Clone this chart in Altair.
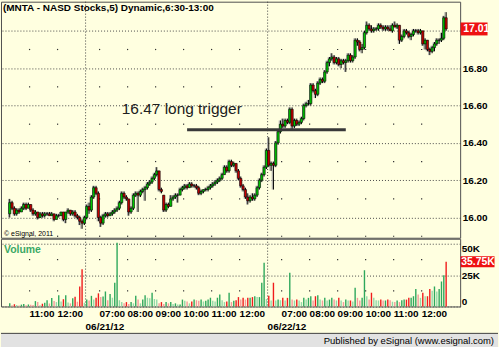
import altair as alt
import pandas as pd

# ---------------------------------------------------------------- data
title_text = "(MNTA - NASD Stocks,5) Dynamic,6:30-13:00"
copyright_text = "\u00a9 eSignal, 2011"
footer_text = "Published by eSignal (www.esignal.com)"

# one entry per trading session: date, first 5-minute bar, number of bars
session_dates = ["06/20/12", "06/21/12", "06/22/12"]
session_first_bar = ["10:15", "06:30", "06:30"]
session_bar_count = [33, 78, 77]

bar_open = [
    # 06/20
    16.02, 16.08, 16.05, 16.02, 16.04, 16.03, 16.05, 16.07, 16.05, 16.07,
    16.04, 16.02, 16.03, 16.00, 16.02, 16.01, 16.02, 16.02, 16.01, 16.02,
    15.99, 16.01, 16.01, 16.03, 15.99, 16.03, 16.04, 16.02, 16.03, 16.01,
    16.00, 15.98, 15.97,
    # 06/21
    16.00, 16.06, 16.04, 16.11, 16.16, 16.13, 16.00, 15.97, 16.01, 16.02,
    16.01, 16.02, 16.03, 16.04, 16.05, 16.08, 16.13, 16.11, 16.10, 16.03,
    16.05, 16.12, 16.13, 16.12, 16.14, 16.15, 16.16, 16.18, 16.19, 16.21,
    16.23, 16.25, 16.15, 16.12, 16.04, 16.07, 16.06, 16.10, 16.11, 16.12,
    16.12, 16.15, 16.16, 16.17, 16.16, 16.18, 16.17, 16.17, 16.16, 16.13,
    16.14, 16.15, 16.15, 16.16, 16.17, 16.18, 16.19, 16.20, 16.21, 16.23,
    16.27, 16.25, 16.30, 16.28, 16.29, 16.25, 16.21, 16.17, 16.15, 16.11,
    16.09, 16.11, 16.10, 16.12, 16.16, 16.20, 16.23, 16.27,
    # 06/22
    16.36, 16.28, 16.29, 16.28, 16.40, 16.46, 16.50, 16.49, 16.52, 16.51,
    16.58, 16.49, 16.52, 16.50, 16.51, 16.53, 16.60, 16.61, 16.61, 16.71,
    16.68, 16.66, 16.72, 16.74, 16.73, 16.78, 16.83, 16.85, 16.86, 16.83,
    16.85, 16.82, 16.84, 16.83, 16.84, 16.87, 16.84, 16.86, 16.95, 16.94,
    16.90, 16.91, 16.99, 17.03, 17.01, 17.00, 17.01, 17.01, 17.03, 17.02,
    17.01, 17.02, 17.01, 17.00, 17.03, 17.02, 17.03, 16.95, 16.97, 17.00,
    16.99, 16.97, 16.98, 17.00, 17.00, 16.99, 17.00, 16.93, 16.95, 16.90,
    16.89, 16.91, 16.93, 16.95, 16.95, 16.96, 17.07,
]
bar_high = [
    # 06/20
    16.10, 16.09, 16.06, 16.05, 16.05, 16.06, 16.08, 16.08, 16.08, 16.07,
    16.05, 16.04, 16.03, 16.03, 16.03, 16.03, 16.03, 16.03, 16.03, 16.02,
    16.02, 16.02, 16.03, 16.03, 16.03, 16.05, 16.04, 16.04, 16.04, 16.02,
    16.01, 15.99, 16.01,
    # 06/21
    16.07, 16.08, 16.12, 16.17, 16.17, 16.14, 16.01, 16.02, 16.03, 16.03,
    16.03, 16.04, 16.05, 16.06, 16.09, 16.14, 16.14, 16.12, 16.10, 16.06,
    16.13, 16.14, 16.14, 16.15, 16.16, 16.17, 16.19, 16.20, 16.22, 16.24,
    16.27, 16.25, 16.16, 16.12, 16.08, 16.08, 16.12, 16.12, 16.13, 16.13,
    16.16, 16.17, 16.18, 16.18, 16.19, 16.19, 16.18, 16.18, 16.17, 16.15,
    16.15, 16.16, 16.17, 16.18, 16.19, 16.20, 16.21, 16.22, 16.24, 16.28,
    16.28, 16.31, 16.31, 16.30, 16.29, 16.26, 16.22, 16.18, 16.16, 16.13,
    16.12, 16.13, 16.13, 16.17, 16.21, 16.24, 16.28, 16.37,
    # 06/22
    16.43, 16.30, 16.30, 16.41, 16.47, 16.52, 16.53, 16.53, 16.53, 16.59,
    16.59, 16.53, 16.53, 16.52, 16.54, 16.61, 16.62, 16.63, 16.72, 16.72,
    16.69, 16.73, 16.75, 16.75, 16.79, 16.84, 16.86, 16.88, 16.87, 16.86,
    16.86, 16.85, 16.85, 16.85, 16.88, 16.88, 16.87, 16.96, 16.96, 16.95,
    16.93, 17.00, 17.05, 17.04, 17.03, 17.02, 17.02, 17.04, 17.04, 17.03,
    17.03, 17.03, 17.03, 17.04, 17.05, 17.04, 17.03, 16.98, 17.01, 17.01,
    17.00, 16.99, 17.01, 17.01, 17.01, 17.01, 17.00, 16.96, 16.95, 16.91,
    16.92, 16.94, 16.96, 16.96, 16.99, 17.08, 17.10,
]
bar_low = [
    # 06/20
    16.00, 16.04, 16.01, 16.01, 16.02, 16.03, 16.04, 16.04, 16.05, 16.03,
    16.01, 16.01, 15.99, 16.00, 16.00, 16.00, 16.01, 16.01, 16.01, 15.98,
    15.99, 16.00, 16.01, 15.98, 15.97, 16.02, 16.01, 16.01, 16.00, 15.99,
    15.96, 15.94, 15.96,
    # 06/21
    15.99, 16.02, 16.03, 16.10, 16.12, 15.98, 15.95, 15.96, 16.00, 16.00,
    16.01, 16.01, 16.02, 16.03, 16.04, 16.07, 16.10, 16.09, 16.01, 16.02,
    16.04, 16.11, 16.03, 16.11, 16.13, 16.09, 16.15, 16.17, 16.18, 16.20,
    16.22, 16.14, 16.13, 16.03, 16.03, 16.05, 16.06, 16.09, 16.10, 16.08,
    16.12, 16.14, 16.15, 16.15, 16.16, 16.16, 16.16, 16.15, 16.12, 16.12,
    16.13, 16.14, 16.14, 16.15, 16.16, 16.17, 16.18, 16.19, 16.20, 16.23,
    16.24, 16.24, 16.27, 16.27, 16.24, 16.20, 16.16, 16.14, 16.10, 16.07,
    16.08, 16.09, 16.09, 16.11, 16.15, 16.19, 16.22, 16.26,
    # 06/22
    16.27, 16.25, 16.15, 16.27, 16.39, 16.45, 16.48, 16.48, 16.50, 16.50,
    16.47, 16.48, 16.49, 16.49, 16.50, 16.52, 16.59, 16.60, 16.60, 16.67,
    16.64, 16.65, 16.71, 16.72, 16.72, 16.77, 16.81, 16.84, 16.82, 16.82,
    16.81, 16.80, 16.82, 16.78, 16.83, 16.83, 16.83, 16.85, 16.92, 16.89,
    16.88, 16.90, 16.98, 17.00, 16.99, 16.99, 17.00, 17.00, 17.01, 17.00,
    17.00, 17.00, 17.00, 16.99, 17.02, 17.01, 16.93, 16.94, 16.96, 16.98,
    16.96, 16.95, 16.97, 16.99, 16.98, 16.98, 16.92, 16.90, 16.89, 16.87,
    16.88, 16.89, 16.92, 16.93, 16.94, 16.95, 17.00,
]
bar_close = [
    # 06/20
    16.08, 16.05, 16.02, 16.04, 16.03, 16.05, 16.07, 16.05, 16.07, 16.04,
    16.02, 16.03, 16.00, 16.02, 16.01, 16.02, 16.02, 16.01, 16.02, 15.99,
    16.01, 16.01, 16.03, 15.99, 16.03, 16.04, 16.02, 16.03, 16.01, 16.00,
    15.98, 15.97, 16.00,
    # 06/21
    16.06, 16.04, 16.11, 16.16, 16.13, 16.00, 15.97, 16.01, 16.02, 16.01,
    16.02, 16.03, 16.04, 16.05, 16.08, 16.13, 16.11, 16.10, 16.03, 16.05,
    16.12, 16.13, 16.12, 16.14, 16.15, 16.16, 16.18, 16.19, 16.21, 16.23,
    16.25, 16.15, 16.14, 16.04, 16.07, 16.06, 16.10, 16.11, 16.12, 16.12,
    16.15, 16.16, 16.17, 16.16, 16.18, 16.17, 16.17, 16.16, 16.13, 16.14,
    16.15, 16.15, 16.16, 16.17, 16.18, 16.19, 16.20, 16.21, 16.23, 16.27,
    16.25, 16.30, 16.28, 16.29, 16.25, 16.21, 16.17, 16.15, 16.11, 16.09,
    16.11, 16.10, 16.12, 16.16, 16.20, 16.23, 16.27, 16.36,
    # 06/22
    16.28, 16.29, 16.28, 16.40, 16.46, 16.50, 16.49, 16.52, 16.51, 16.58,
    16.49, 16.52, 16.50, 16.51, 16.53, 16.60, 16.61, 16.61, 16.71, 16.68,
    16.66, 16.72, 16.74, 16.73, 16.78, 16.83, 16.85, 16.86, 16.83, 16.85,
    16.82, 16.84, 16.83, 16.84, 16.87, 16.84, 16.86, 16.95, 16.94, 16.90,
    16.91, 16.99, 17.03, 17.01, 17.00, 17.01, 17.01, 17.03, 17.02, 17.01,
    17.02, 17.01, 17.00, 17.03, 17.02, 17.03, 16.95, 16.97, 17.00, 16.99,
    16.97, 16.98, 17.00, 17.00, 16.99, 17.00, 16.93, 16.95, 16.90, 16.89,
    16.91, 16.93, 16.95, 16.95, 16.96, 17.07, 17.01,
]
# volume per bar, thousands of shares
volume_k = [
    # 06/20
    2.5, 1.0, 1.8, 1.2, 0.8, 1.5, 2.0, 0.9, 1.6, 1.3,
    1.1, 4.3, 3.6, 1.0, 2.2, 3.0, 5.0, 2.4, 6.7, 4.4,
    3.5, 8.9, 4.0, 5.8, 9.0, 3.2, 2.5, 6.5, 7.8, 3.8,
    16.0, 29.7, 3.0,
    # 06/21
    5.6, 4.8, 8.5, 5.6, 6.9, 10.5, 7.5, 8.0, 12.0, 5.0,
    10.0, 7.0, 19.0, 51.0, 5.0, 3.5, 2.5, 3.5, 2.0, 3.5,
    2.5, 8.5, 5.5, 2.5, 5.5, 9.0, 7.0, 6.5, 11.0, 6.0,
    5.5, 2.5, 3.5, 2.0, 3.5, 2.5, 3.5, 2.0, 2.5, 1.5,
    1.5, 5.5, 4.5, 4.0, 2.5, 4.0, 5.5, 5.0, 4.5, 5.5,
    4.0, 4.5, 5.5, 7.0, 4.5, 4.0, 7.0, 9.5, 5.0, 3.5,
    4.0, 11.0, 3.5, 4.5, 5.0, 7.5, 5.5, 6.9, 5.5, 6.9,
    6.9, 7.5, 8.2, 7.5, 7.5, 19.0, 35.0, 6.0,
    # 06/22
    8.5, 4.8, 19.0, 4.8, 5.5, 5.0, 6.9, 4.8, 6.9, 27.0,
    5.5, 4.8, 5.5, 4.8, 3.5, 6.9, 5.5, 6.9, 8.2, 4.8,
    8.2, 8.9, 5.5, 4.8, 6.9, 4.8, 5.5, 6.9, 5.5, 4.8,
    6.9, 4.8, 3.5, 5.5, 4.8, 4.8, 4.0, 15.0, 6.9, 4.8,
    6.9, 29.0, 8.2, 5.5, 11.0, 6.9, 5.0, 4.8, 5.5, 4.8,
    4.8, 5.5, 5.0, 3.8, 3.5, 4.8, 3.5, 5.0, 5.5, 5.5,
    6.9, 6.9, 8.2, 14.0, 9.5, 6.9, 11.0, 8.2, 8.2, 14.0,
    12.5, 16.0, 12.0, 14.0, 20.0, 25.0, 35.75,
]

trigger_price = 16.47
trigger_label = "16.47 long trigger"
trigger_from = ("06/21/12", "10:05")
trigger_to = ("06/22/12", "09:15")
trigger_label_at = ("06/21/12", "07:45")

price_grid = [16.0, 16.2, 16.4, 16.6, 16.8, 17.0]
price_minor = [15.9, 16.1, 16.3, 16.5, 16.7, 16.9]
volume_grid = [0, 25, 50]
volume_minor = [12.5, 37.5]

# ---------------------------------------------------------------- frames
rows = []
for d, first, n in zip(session_dates, session_first_bar, session_bar_count):
    h, m = (int(p) for p in first.split(":"))
    for k in range(n):
        t = h * 60 + m + 5 * k
        rows.append({"date": d, "time": f"{t // 60:02d}:{t % 60:02d}"})
bars = pd.DataFrame(rows)
bars["idx"] = range(len(bars))
bars["open"] = bar_open
bars["high"] = bar_high
bars["low"] = bar_low
bars["close"] = bar_close
bars["volume_k"] = volume_k

up = bars["close"] >= bars["open"]
louder = bars["volume_k"] >= bars["volume_k"].shift(1).fillna(0)
bars["body"] = up.map({True: "#00c800", False: "#c80000"})
bars["vcolor"] = [
    ("#2ea85c" if u else "#f01c1c") if l else ("#93d9a8" if u else "#f59a9a")
    for u, l in zip(up, louder)
]

pos_of = {(d, t): i for d, t, i in zip(bars["date"], bars["time"], bars["idx"])}

hour_rows = bars[bars["time"].str.endswith(":00") & bars["time"].between("07:00", "12:00")]
hour_ticks = pd.DataFrame({"pos": hour_rows["idx"] - 0.5, "label": hour_rows["time"]})

starts = bars.groupby("date", sort=False)["idx"].min().iloc[1:]
session_ticks = pd.DataFrame({"pos": starts.values - 0.5, "label": starts.index})

price_dots = pd.DataFrame(
    [{"pos": p, "level": v} for p in hour_ticks["pos"] for v in price_minor]
)
volume_dots = pd.DataFrame(
    [{"pos": p, "level": v} for p in hour_ticks["pos"] for v in volume_minor]
)

trigger = pd.DataFrame([{
    "start": pos_of[trigger_from], "end": pos_of[trigger_to],
    "at": pos_of[trigger_label_at], "price": trigger_price, "label": trigger_label,
}])

last = bars.tail(1).copy()
last["price_label"] = last["close"].map(lambda v: f"{v:.2f}")
last["volume_label"] = last["volume_k"].map(lambda v: f"{v:.2f}K")

# ---------------------------------------------------------------- chart
W, H_PRICE, H_VOL = 461, 237, 68
FONT = "Liberation Sans"
INK = "#000000"

x_scale = alt.Scale(domain=[-1.61, 190.87], nice=False, zero=False)
p_scale = alt.Scale(domain=[15.892, 17.156], nice=False, zero=False)
v_scale = alt.Scale(domain=[0, 54.2], nice=False, zero=True)

price_axis = alt.Axis(
    orient="right", values=price_grid, grid=True, gridDash=[1, 2],
    gridColor="#4a4a4a", gridOpacity=1, ticks=False, domain=False,
    labelFont=FONT, labelFontSize=10, labelFontWeight="bold", labelColor=INK,
    labelPadding=2, labelFlush=False, labelBound=False,
    labelExpr="datum.value > 16.99 ? '' : format(datum.value, '.2f')", title=None,
)
volume_axis = alt.Axis(
    orient="right", values=volume_grid, grid=True, gridDash=[1, 2],
    gridColor="#4a4a4a", gridOpacity=1, ticks=False, domain=False,
    labelFont=FONT, labelFontSize=10, labelFontWeight="bold", labelColor=INK,
    labelPadding=1, labelFlush=6,
    labelExpr="datum.value == 0 ? '0' : datum.value + 'K'", title=None,
)


def xq(field):
    return alt.X(f"{field}:Q", scale=x_scale, axis=None)


def yp(field):
    # every price layer carries the same axis so the merged axis keeps it
    return alt.Y(f"{field}:Q", scale=p_scale, axis=price_axis)


def yv(field):
    return alt.Y(f"{field}:Q", scale=v_scale, axis=volume_axis)


base = alt.Chart(bars)

p_dots = alt.Chart(price_dots).mark_square(size=1.5, color="#333333", opacity=1).encode(
    x=xq("pos"), y=yp("level"))
p_div = alt.Chart(session_ticks).mark_rule(color="#404040", strokeDash=[1, 2]).encode(
    x=xq("pos"))
shadow = base.mark_rule(color="#a8a8a8", strokeWidth=1, xOffset=-1.2).encode(
    x=xq("idx"), y=yp("low"), y2="high:Q")
wick = base.mark_rule(color=INK, strokeWidth=1).encode(
    x=xq("idx"), y=yp("low"), y2="high:Q")
body = base.mark_bar(size=2.2, stroke=INK, strokeWidth=0.6).encode(
    x=xq("idx"), y=yp("open"), y2="close:Q",
    color=alt.Color("body:N", scale=None))
trig_line = alt.Chart(trigger).mark_rule(color="#383838", strokeWidth=3).encode(
    x=xq("start"), x2="end:Q", y=yp("price"))
trig_text = alt.Chart(trigger).mark_text(
    align="left", baseline="alphabetic", dy=-16,
    font=FONT, fontSize=15.5, color="#202020").encode(
    x=xq("at"), y=yp("price"), text="label:N")
head = alt.Chart(pd.DataFrame({"t": [title_text]})).mark_text(
    align="left", baseline="top", font=FONT, fontSize=10, fontWeight="bold",
    color=INK).encode(x=alt.value(2), y=alt.value(1.5), text="t:N")
copy = alt.Chart(pd.DataFrame({"t": [copyright_text]})).mark_text(
    align="left", baseline="alphabetic", font=FONT, fontSize=7, color=INK).encode(
    x=alt.value(3), y=alt.value(H_PRICE - 2), text="t:N")
p_box = alt.Chart(last).mark_tick(
    orient="horizontal", size=27, thickness=13, color="#ee1111", opacity=1).encode(
    x=alt.value(W + 14), y=yp("close"))
p_lab = alt.Chart(last).mark_text(
    align="left", baseline="middle", font=FONT, fontSize=10.5, fontWeight="bold",
    color="#ffffff").encode(x=alt.value(W + 3), y=yp("close"), text="price_label:N")

price = alt.layer(
    p_dots, p_div, shadow, wick, body, trig_line, trig_text, head, copy, p_box, p_lab
).properties(width=W, height=H_PRICE)

v_dots = alt.Chart(volume_dots).mark_square(size=1.5, color="#333333", opacity=1).encode(
    x=xq("pos"), y=yv("level"))
v_div = alt.Chart(session_ticks).mark_rule(color="#404040", strokeDash=[1, 2]).encode(
    x=xq("pos"))
v_bars = base.mark_bar(size=1.4).encode(
    x=xq("idx"), y=yv("volume_k"),
    color=alt.Color("vcolor:N", scale=None))
v_name = alt.Chart(pd.DataFrame({"t": ["Volume"]})).mark_text(
    align="left", baseline="alphabetic", font=FONT, fontSize=10.5, fontWeight="bold",
    color="#3aa864").encode(x=alt.value(3), y=alt.value(14.7), text="t:N")
v_box = alt.Chart(last).mark_tick(
    orient="horizontal", size=34, thickness=11, color="#ee1111", opacity=1).encode(
    x=alt.value(W + 17.5), y=yv("volume_k"))
v_lab = alt.Chart(last).mark_text(
    align="left", baseline="middle", font=FONT, fontSize=10.5, fontWeight="bold",
    color="#ffffff").encode(x=alt.value(W + 1), y=yv("volume_k"), text="volume_label:N")
hour_text = alt.Chart(hour_ticks).mark_text(
    align="left", baseline="alphabetic", font=FONT, fontSize=10, fontWeight="bold",
    color=INK).encode(x=xq("pos"), y=alt.value(H_VOL + 10.5), text="label:N")
date_text = alt.Chart(session_ticks).mark_text(
    align="left", baseline="alphabetic", font=FONT, fontSize=10, fontWeight="bold",
    color=INK).encode(x=xq("pos"), y=alt.value(H_VOL + 24), text="label:N")
strip_df = pd.DataFrame({"t": [footer_text]})
strip = alt.Chart(strip_df).mark_rect(color="#e2e2e2").encode(
    x=alt.value(0), x2=alt.value(499), y=alt.value(H_VOL + 27), y2=alt.value(H_VOL + 41))
strip_line = alt.Chart(strip_df).mark_rule(color="#404040").encode(
    x=alt.value(0), x2=alt.value(499), y=alt.value(H_VOL + 27))
strip_text = alt.Chart(strip_df).mark_text(
    align="right", baseline="middle", font=FONT, fontSize=9.5, color=INK).encode(
    x=alt.value(495), y=alt.value(H_VOL + 34.5), text="t:N")

volume = alt.layer(
    v_dots, v_div, v_bars, v_name, v_box, v_lab, hour_text, date_text,
    strip, strip_line, strip_text
).properties(width=W, height=H_VOL)

chart = (
    alt.vconcat(price, volume, spacing=1, bounds="flush")
    .properties(padding=0, background="#ffffe0")
    .configure_view(stroke="#505050", strokeWidth=1)
)

chart.save("out.html", embed_options={"renderer": "svg", "actions": False})
